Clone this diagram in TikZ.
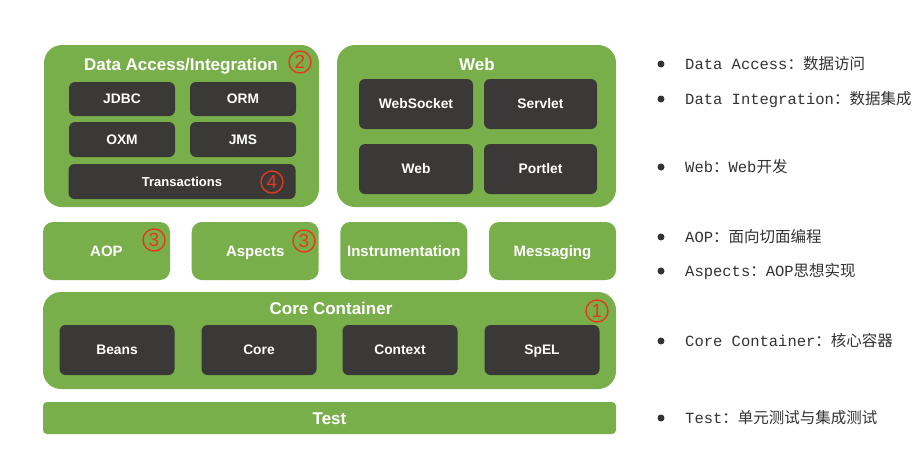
\documentclass[tikz,border=0pt]{standalone}
\usepackage{fontspec}
\setmainfont{Liberation Sans}
\newfontfamily\monof{Liberation Mono}
\newfontfamily\cjk{Noto Sans CJK SC}
\definecolor{sgreen}{HTML}{79AF4A}
\definecolor{sdark}{HTML}{3B3937}
\definecolor{sred}{HTML}{E5391C}
\definecolor{stext}{HTML}{333333}
\begin{document}
\begin{tikzpicture}[x=1pt,y=-1pt,
  bigbox/.style={fill=sgreen,draw=none,rounded corners=18pt,inner sep=0pt},
  modbox/.style={fill=sgreen,draw=none,rounded corners=10pt,inner sep=0pt,text=white,font=\fontsize{15}{15}\selectfont\bfseries,text height=10.7pt,text depth=0pt},
  darkbox/.style={fill=sdark,draw=none,rounded corners=6pt,inner sep=0pt,text=white,font=\fontsize{13.8}{13.8}\selectfont\bfseries,text height=9.9pt,text depth=0pt},
  titletext/.style={text=white,font=\fontsize{17}{17}\selectfont\bfseries,inner sep=0pt,text height=12.2pt,text depth=0pt},
  numcircle/.style={circle,draw=sred,line width=1.4pt,text=sred,minimum size=22pt,inner sep=0pt,font=\fontsize{19}{19}\selectfont,text height=13.6pt,text depth=0pt},
  bullet/.style={circle,fill=stext,minimum size=7pt,inner sep=0pt},
  desc/.style={anchor=west,text=stext,inner sep=0pt,font=\fontsize{15.5}{15.5}\selectfont,text height=11.5pt,text depth=1pt}
]
\useasboundingbox[fill=white] (0,0) rectangle (920,450);

% Data Access / Integration
\node[bigbox,minimum width=275pt,minimum height=162pt] (da) at (181.5,126) {};
\node[titletext] (datitle) at (181,64) {Data Access/Integration};
\node[numcircle] (n2) at (300,62) {2};
\node[darkbox,minimum width=106pt,minimum height=34pt] (jdbc) at (122,99) {JDBC};
\node[darkbox,minimum width=106pt,minimum height=34pt] (orm) at (243,99) {ORM};
\node[darkbox,minimum width=106pt,minimum height=35pt] (oxm) at (122,139.5) {OXM};
\node[darkbox,minimum width=106pt,minimum height=35pt] (jms) at (243,139.5) {JMS};
\node[darkbox,minimum width=227pt,minimum height=35pt,font=\fontsize{13}{13}\selectfont\bfseries,text height=9.3pt] (tx) at (182,181.5) {Transactions};
\node[numcircle] (n4) at (272,182) {4};

% Web
\node[bigbox,minimum width=279pt,minimum height=162pt] (web) at (476.5,126) {};
\node[titletext] (webtitle) at (477,64) {Web};
\node[darkbox,minimum width=114pt,minimum height=50pt] (ws) at (416,104) {WebSocket};
\node[darkbox,minimum width=113pt,minimum height=50pt] (servlet) at (540.5,104) {Servlet};
\node[darkbox,minimum width=114pt,minimum height=50pt] (webm) at (416,169) {Web};
\node[darkbox,minimum width=113pt,minimum height=50pt] (portlet) at (540.5,169) {Portlet};

% middle row
\node[modbox,minimum width=127pt,minimum height=58pt] (aop) at (106.5,251) {AOP};
\node[modbox,minimum width=127pt,minimum height=58pt] (aspects) at (255.2,251) {Aspects};
\node[modbox,minimum width=127pt,minimum height=58pt] (instr) at (403.8,251) {Instrumentation};
\node[modbox,minimum width=127pt,minimum height=58pt] (msg) at (552.5,251) {Messaging};
\node[numcircle] (n3a) at (154,240) {3};
\node[numcircle] (n3b) at (304,241) {3};

% Core Container
\node[bigbox,minimum width=573pt,minimum height=97pt] (cc) at (329.5,340.5) {};
\node[titletext] (cctitle) at (331,308) {Core Container};
\node[numcircle] (n1) at (597,311) {1};
\node[darkbox,minimum width=115pt,minimum height=50pt] (beans) at (117,350) {Beans};
\node[darkbox,minimum width=115pt,minimum height=50pt] (core) at (259,350) {Core};
\node[darkbox,minimum width=115pt,minimum height=50pt] (ctx) at (400,350) {Context};
\node[darkbox,minimum width=115pt,minimum height=50pt] (spel) at (542,350) {SpEL};

% Test
\node[fill=sgreen,rounded corners=4pt,inner sep=0pt,minimum width=573pt,minimum height=32pt,text=white,font=\fontsize{17}{17}\selectfont\bfseries,text height=12.2pt,text depth=0pt] (test) at (329.5,418) {Test};

% right side descriptions
\node[bullet] (b1) at (661,64) {};
\node[desc] (d1) at (685,64) {\monof Data Access\cjk：数据访问};
\node[bullet] (b2) at (661,99) {};
\node[desc] (d2) at (685,99) {\monof Data Integration\cjk：数据集成};
\node[bullet] (b3) at (661,167) {};
\node[desc] (d3) at (685,167) {\monof Web\cjk：\monof Web\cjk 开发};
\node[bullet] (b4) at (661,237) {};
\node[desc] (d4) at (685,237) {\monof AOP\cjk：面向切面编程};
\node[bullet] (b5) at (661,271) {};
\node[desc] (d5) at (685,271) {\monof Aspects\cjk：\monof AOP\cjk 思想实现};
\node[bullet] (b6) at (661,341) {};
\node[desc] (d6) at (685,341) {\monof Core Container\cjk：核心容器};
\node[bullet] (b7) at (661,418) {};
\node[desc] (d7) at (685,418) {\monof Test\cjk：单元测试与集成测试};
\end{tikzpicture}
\end{document}
